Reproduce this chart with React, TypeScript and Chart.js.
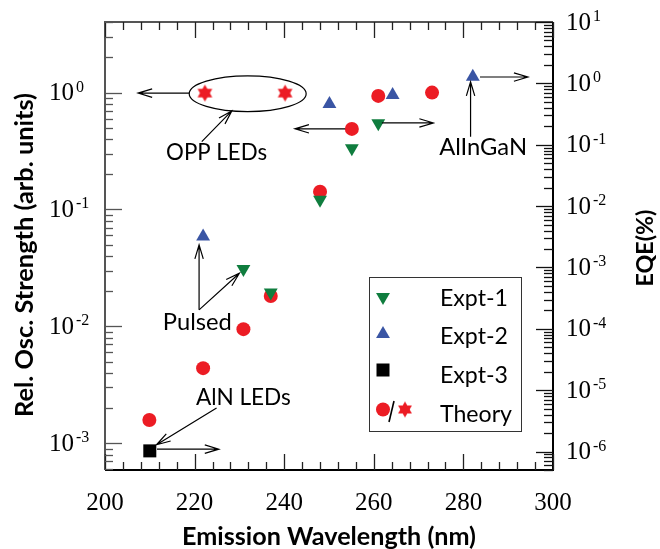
import { useEffect, useRef } from 'react';
import { Chart, registerables } from 'chart.js';
Chart.register(...registerables);

// ---- data (x: emission wavelength nm, y: relative oscillator strength) ----
const expt1X = [230.9, 237.0, 248.0, 255.1, 261.0];
const expt1Y = [0.031, 0.0195, 0.121, 0.334, 0.547];
const expt2X = [221.9, 250.1, 264.2, 282.1];
const expt2Y = [0.0586, 0.8, 0.955, 1.37];
const expt3X = [210.0];
const expt3Y = [8.6e-4];
const theoryX = [209.9, 221.9, 230.9, 237.0, 248.0, 255.1, 261.0, 273.0];
const theoryY = [1.58e-3, 4.39e-3, 9.46e-3, 1.82e-2, 0.142, 0.489, 0.937, 1.0];
const oppX = [222.3, 240.2];
const oppY = [0.99, 0.99];

// axis ranges / ticks
const xTickLabels = [200, 220, 240, 260, 280, 300];
const leftExps = [-3, -2, -1, 0];
const rightExps = [-6, -5, -4, -3, -2, -1, 0, 1];

// annotations in data units: [x1, y1, x2, y2] (arrow head at x2,y2)
const arrows: number[][] = [
  [218.8, 0.99, 207.4, 0.99],
  [221.6, 0.381, 228.3, 0.697],
  [261.8, 0.55, 273.3, 0.55],
  [253.6, 0.49, 242.4, 0.49],
  [281.6, 0.42, 281.6, 1.235],
  [283.7, 1.36, 294.4, 1.36],
  [221.0, 0.01384, 221.0, 0.0498],
  [221.0, 0.01384, 230.0, 0.0285],
  [224.9, 2.0e-3, 211.5, 9.7e-4],
  [211.6, 8.9e-4, 225.4, 8.9e-4],
];
const noteText = ['OPP LEDs', 'Pulsed', 'AlN LEDs', 'AlInGaN'];
const noteX = [224.9, 220.6, 230.9, 284.4];
const noteY = [0.2655, 9.33e-3, 2.13e-3, 0.293];
const noteW = [101, 69, 95, 88];
// ellipse around OPP LEDs: [xLeft, xRight, yTop, yBottom]
const ellipseBox = [218.8, 244.9, 1.39, 0.688];

const RED = '#ec1c24';
const GREEN = '#0f7d3e';
const BLUE = '#3a55a4';
const SANS = 'Lato, "Open Sans", sans-serif';
const SERIF = '"Liberation Serif", "DejaVu Serif", serif';

function makeStar(r: number, color: string) {
  const s = Math.ceil(2 * r + 2);
  const c = document.createElement('canvas');
  c.width = s; c.height = s;
  const g = c.getContext('2d')!;
  g.fillStyle = color;
  const cx = s / 2, cy = s / 2;
  const k = 0.866 * r;
  g.beginPath();
  g.moveTo(cx, cy - r); g.lineTo(cx + k, cy + r / 2); g.lineTo(cx - k, cy + r / 2); g.closePath();
  g.fill();
  g.beginPath();
  g.moveTo(cx, cy + r); g.lineTo(cx + k, cy - r / 2); g.lineTo(cx - k, cy - r / 2); g.closePath();
  g.fill();
  return c;
}

function fitFont(ctx: CanvasRenderingContext2D, text: string, weight: string, family: string, w: number) {
  ctx.font = `${weight} 100px ${family}`;
  const m = ctx.measureText(text).width;
  const size = (100 * w) / m;
  return `${weight} ${size.toFixed(2)}px ${family}`;
}

function tri(ctx: CanvasRenderingContext2D, x: number, y: number, r: number, down: boolean, color: string) {
  const k = 0.866 * r;
  const s = down ? -1 : 1;
  ctx.fillStyle = color;
  ctx.beginPath();
  ctx.moveTo(x, y - s * r);
  ctx.lineTo(x + k, y + s * r / 2);
  ctx.lineTo(x - k, y + s * r / 2);
  ctx.closePath();
  ctx.fill();
}

const decorPlugin = {
  id: 'decor',
  afterDraw(chart: any) {
    const { ctx, chartArea: ca, scales } = chart;
    const x = scales.x, y = scales.y, y2 = scales.y2;
    ctx.save();

    // frame
    ctx.lineWidth = 2;
    ctx.strokeStyle = '#555';
    ctx.beginPath(); ctx.moveTo(ca.left, ca.bottom); ctx.lineTo(ca.left, ca.top); ctx.lineTo(ca.right, ca.top); ctx.stroke();
    ctx.strokeStyle = '#000';
    ctx.beginPath(); ctx.moveTo(ca.left, ca.bottom); ctx.lineTo(ca.right, ca.bottom); ctx.lineTo(ca.right, ca.top); ctx.stroke();

    // x ticks (inward, top and bottom)
    ctx.lineWidth = 1.3;
    for (let v = 200; v <= 300; v += 4) {
      const px = Math.round(x.getPixelForValue(v)) + 0.5;
      const len = v % 20 === 0 ? 16 : 8;
      ctx.strokeStyle = '#222';
      ctx.beginPath();
      ctx.moveTo(px, ca.bottom); ctx.lineTo(px, ca.bottom - len);
      ctx.moveTo(px, ca.top); ctx.lineTo(px, ca.top + len);
      ctx.stroke();
    }
    // left log ticks
    ctx.strokeStyle = '#555';
    for (let e = -4; e <= 1; e++) {
      for (let m = 1; m <= 9; m++) {
        const v = m * Math.pow(10, e);
        if (v < y.min || v > y.max) continue;
        const py = Math.round(y.getPixelForValue(v)) + 0.5;
        const len = m === 1 ? 17 : 8;
        ctx.beginPath(); ctx.moveTo(ca.left, py); ctx.lineTo(ca.left + len, py); ctx.stroke();
      }
    }
    // right log ticks
    ctx.strokeStyle = '#111';
    for (let e = -7; e <= 1; e++) {
      for (let m = 1; m <= 9; m++) {
        const v = m * Math.pow(10, e);
        if (v < y2.min || v > y2.max * 1.0001) continue;
        const py = Math.round(y2.getPixelForValue(v)) + 0.5;
        const len = m === 1 ? 17 : 9;
        ctx.beginPath(); ctx.moveTo(ca.right, py); ctx.lineTo(ca.right - len, py); ctx.stroke();
      }
    }

    // tick labels
    ctx.fillStyle = '#000';
    ctx.textBaseline = 'alphabetic';
    ctx.font = `25px ${SERIF}`;
    ctx.textAlign = 'center';
    xTickLabels.forEach((v) => {
      ctx.fillText(String(v), x.getPixelForValue(v), 509.5);
    });
    const powLabel = (px: number, py: number, e: number) => {
      ctx.textAlign = 'left';
      ctx.font = `25px ${SERIF}`;
      ctx.fillText('10', px, py + 7.5);
      ctx.font = `16px ${SERIF}`;
      ctx.fillText(e < 0 ? '-' + Math.abs(e) : String(e), px + 27, py - 1);
    };
    leftExps.forEach((e) => powLabel(49, y.getPixelForValue(Math.pow(10, e)), e));
    rightExps.forEach((e) => powLabel(566, y2.getPixelForValue(Math.pow(10, e)), e));

    // axis titles
    ctx.textAlign = 'center';
    ctx.textBaseline = 'alphabetic';
    const xt = 'Emission Wavelength (nm)';
    ctx.font = fitFont(ctx, xt, 'bold', SANS, 294);
    ctx.fillText(xt, 329, 545);
    const yt = 'Rel. Osc. Strength (arb. units)';
    ctx.save();
    ctx.translate(33, 255);
    ctx.rotate(-Math.PI / 2);
    ctx.font = fitFont(ctx, yt, 'bold', SANS, 324);
    ctx.fillText(yt, 0, 0);
    ctx.restore();
    const et = 'EQE(%)';
    ctx.save();
    ctx.translate(653, 248);
    ctx.rotate(-Math.PI / 2);
    ctx.font = fitFont(ctx, et, 'bold', SANS, 77);
    ctx.fillText(et, 0, 0);
    ctx.restore();

    // ellipse
    const exl = x.getPixelForValue(ellipseBox[0]);
    const exr = x.getPixelForValue(ellipseBox[1]);
    const eyt = y.getPixelForValue(ellipseBox[2]);
    const eyb = y.getPixelForValue(ellipseBox[3]);
    ctx.strokeStyle = '#000';
    ctx.lineWidth = 1.2;
    ctx.beginPath();
    ctx.ellipse((exl + exr) / 2, (eyt + eyb) / 2, (exr - exl) / 2, (eyb - eyt) / 2, 0, 0, Math.PI * 2);
    ctx.stroke();

    // arrows
    ctx.lineWidth = 1.2;
    arrows.forEach(([a, b, c, d]) => {
      const x1 = x.getPixelForValue(a), y1 = y.getPixelForValue(b);
      const x2 = x.getPixelForValue(c), y2p = y.getPixelForValue(d);
      const ang = Math.atan2(y2p - y1, x2 - x1);
      ctx.beginPath();
      ctx.moveTo(x1, y1); ctx.lineTo(x2, y2p);
      const L = 14, W = 4.2;
      const bx = x2 - L * Math.cos(ang), by = y2p - L * Math.sin(ang);
      const nx = -Math.sin(ang) * W, ny = Math.cos(ang) * W;
      ctx.moveTo(bx + nx, by + ny); ctx.lineTo(x2, y2p); ctx.lineTo(bx - nx, by - ny);
      ctx.stroke();
    });

    // annotation text
    ctx.fillStyle = '#000';
    ctx.textAlign = 'center';
    noteText.forEach((t, i) => {
      ctx.font = fitFont(ctx, t, 'normal', SANS, noteW[i]);
      ctx.fillText(t, x.getPixelForValue(noteX[i]), y.getPixelForValue(noteY[i]));
    });

    // legend
    ctx.lineWidth = 1;
    ctx.strokeStyle = '#333';
    ctx.strokeRect(369.5, 277.5, 152, 154);
    tri(ctx, 383, 297, 8, true, GREEN);
    tri(ctx, 383, 334, 8, false, BLUE);
    ctx.fillStyle = '#000';
    ctx.fillRect(376.5, 363.5, 13, 13);
    ctx.fillStyle = RED;
    ctx.beginPath(); ctx.arc(383, 409.5, 7, 0, Math.PI * 2); ctx.fill();
    ctx.strokeStyle = '#000';
    ctx.lineWidth = 1.6;
    ctx.beginPath(); ctx.moveTo(394, 401); ctx.lineTo(389, 422); ctx.stroke();
    const star = makeStar(8, RED);
    ctx.drawImage(star, 405 - star.width / 2, 409.5 - star.height / 2);
    ctx.fillStyle = '#000';
    ctx.textAlign = 'left';
    const legT = ['Expt-1', 'Expt-2', 'Expt-3', 'Theory'];
    const legB = [306, 344, 382.7, 421.7];
    ctx.font = fitFont(ctx, 'Expt-1', 'normal', SANS, 68);
    legT.forEach((t, i) => ctx.fillText(t, 440, legB[i]));

    ctx.restore();
  },
};

export default function App() {
  const ref = useRef<HTMLCanvasElement>(null);
  useEffect(() => {
    if (!ref.current) return;
    const pts = (xs: number[], ys: number[]) => xs.map((v, i) => ({ x: v, y: ys[i] }));
    const starImg = makeStar(8.5, RED);
    const chart = new Chart(ref.current, {
      type: 'scatter',
      data: {
        datasets: [
          { label: 'Expt-1', data: pts(expt1X, expt1Y), pointStyle: 'triangle', rotation: 180, pointRadius: 8, backgroundColor: GREEN, borderColor: GREEN, borderWidth: 0 },
          { label: 'Expt-2', data: pts(expt2X, expt2Y), pointStyle: 'triangle', pointRadius: 8, backgroundColor: BLUE, borderColor: BLUE, borderWidth: 0 },
          { label: 'Expt-3', data: pts(expt3X, expt3Y), pointStyle: 'rect', pointRadius: 9.2, backgroundColor: '#000', borderColor: '#000', borderWidth: 0 },
          { label: 'Theory', data: pts(theoryX, theoryY), pointStyle: 'circle', pointRadius: 7, backgroundColor: RED, borderColor: RED, borderWidth: 0 },
          { label: 'Theory (OPP)', data: pts(oppX, oppY), pointStyle: starImg as any, pointRadius: 8.5, backgroundColor: RED, borderColor: RED },
        ] as any,
      },
      options: {
        responsive: false,
        animation: false,
        events: [],
        layout: { padding: { left: 105, right: 107, top: 22, bottom: 79 } },
        plugins: { legend: { display: false }, tooltip: { enabled: false } },
        scales: {
          x: { type: 'linear', min: 200, max: 300, display: false },
          y: { type: 'logarithmic', min: 5.9e-4, max: 4.02, display: false },
          y2: { type: 'logarithmic', position: 'right', min: 5.0e-7, max: 10, display: false },
        },
      } as any,
      plugins: [decorPlugin],
    });
    return () => chart.destroy();
  }, []);
  return (
    <div style={{ position: 'absolute', left: 0, top: 0, width: 660, height: 549, background: '#fff' }}>
      <canvas ref={ref} width={660} height={549} style={{ display: 'block' }} />
    </div>
  );
}
